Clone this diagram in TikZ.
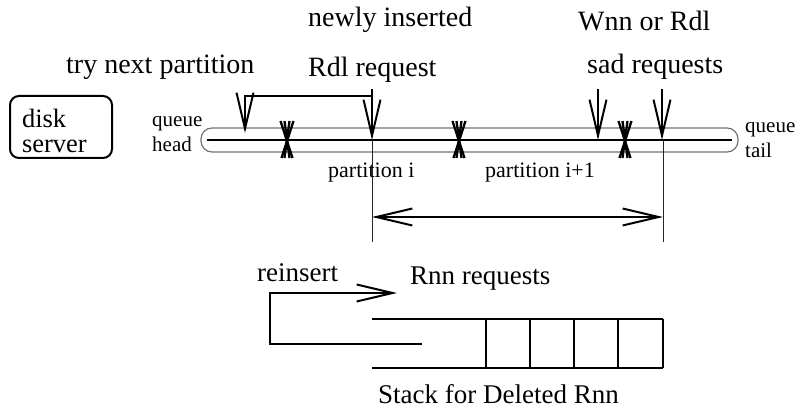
\documentclass[tikz,border=0pt]{standalone}
\usepackage{fontspec}
\setmainfont{Liberation Serif}
\usetikzlibrary{arrows.meta}
\begin{document}
\begin{tikzpicture}[x=1pt,y=-1pt,
  thickln/.style={line width=2pt},
  thinln/.style={line width=1pt, black!85},
  barb/.style={-{Straight Barb[length=36pt,width=17pt]}},
  dbarb/.style={{Straight Barb[length=36pt,width=17pt]}-{Straight Barb[length=36pt,width=17pt]}},
  bigtxt/.style={font=\fontsize{28}{30}\selectfont, inner sep=0pt, anchor=base west},
  midtxt/.style={font=\fontsize{22}{24}\selectfont, inner sep=0pt, anchor=base west},
  smalltxt/.style={font=\fontsize{21}{23}\selectfont, inner sep=0pt, anchor=base west},
  xmark/.style={line width=2.3pt}]
\useasboundingbox (0,0) rectangle (806,419);

% disk server
\node[draw, line width=2pt, rounded corners=9pt, minimum width=102pt, minimum height=62pt, inner sep=0pt] (disk) at (61,127) {};
\node[inner sep=0pt, text width=80pt, align=left, font=\fontsize{26.5}{24.5}\selectfont] (disklbl) at (62,131) {disk\\server};

% queue tube
\node[draw=black!55, line width=1.2pt, rounded corners=11pt, minimum width=537pt, minimum height=24pt, inner sep=0pt] (queue) at (469.5,140) {};
\coordinate (qh) at (207,140);
\coordinate (qt) at (732,140);
\draw[thickln] (qh) -- (qt);

% labels at ends
\node[smalltxt] (qhl1) at (152,127) {queue};
\node[smalltxt] (qhl2) at (152,152) {head};
\node[smalltxt] (qtl1) at (745,133) {queue};
\node[smalltxt] (qtl2) at (745,158) {tail};

% partition markers
\foreach \px/\nm in {287/m1,459/m2,625/m3}{
  \coordinate (\nm t) at (\px,121);
  \draw[xmark] (\px-6.5,121) -- (\px+5.5,158);
  \draw[xmark] (\px+6.5,121) -- (\px-5.5,158);
  \draw[xmark] (\px-2.5,121) -- (\px+2.5,158);
  \draw[xmark] (\px+2.5,121) -- (\px-2.5,158);
}

% top arrows
\coordinate (newtop) at (372,89);
\coordinate (newtip) at (372,140);
\coordinate (brk) at (372,96);
\coordinate (brkl) at (245,96);
\coordinate (trytip) at (245,133);
\draw[thickln, barb] (newtop) -- (newtip);
\draw[thickln, barb] (brk) -- (brkl) -- (trytip);

\coordinate (s1top) at (598,89);
\coordinate (s1tip) at (598,140);
\coordinate (s2top) at (662,89);
\coordinate (s2tip) at (662,140);
\draw[thickln, barb] (s1top) -- (s1tip);
\draw[thickln, barb] (s2top) -- (s2tip);

% top labels
\node[bigtxt] (trylbl) at (66,74) {try next partition};
\node[bigtxt] (newlbl) at (308,27) {newly inserted};
\node[bigtxt] (rdllbl) at (308,77) {Rdl request};
\node[bigtxt] (wnnlbl) at (578,31) {Wnn or Rdl};
\node[bigtxt] (sadlbl) at (587,74) {sad requests};

% partition span
\coordinate (pa) at (372,140);
\coordinate (pab) at (372,242);
\coordinate (pb) at (663,140);
\coordinate (pbb) at (663,242);
\draw[thinln] (pa) -- (pab);
\draw[thinln] (pb) -- (pbb);
\coordinate (da) at (372,217);
\coordinate (db) at (663,217);
\draw[thickln, dbarb] (da) -- (db);
\node[midtxt] (p1lbl) at (328,178) {partition i};
\node[midtxt] (p2lbl) at (485,178) {partition i+1};

% stack
\coordinate (st1) at (372,319);
\coordinate (st2) at (663,319);
\coordinate (sb1) at (372,368);
\coordinate (sb2) at (663,368);
\draw[thickln] (st1) -- (st2);
\draw[thickln] (sb1) -- (sb2);
\foreach \cx in {486,530,574,618,663}{
  \draw[thickln] (\cx,319) -- (\cx,368);
}
\coordinate (r0) at (422,344);
\coordinate (r1) at (270,344);
\coordinate (r2) at (270,293);
\coordinate (r3) at (397,293);
\draw[thickln, barb] (r0) -- (r1) -- (r2) -- (r3);

\node[bigtxt, font=\fontsize{27}{29}\selectfont] (reinslbl) at (257,282) {reinsert};
\node[bigtxt, font=\fontsize{27}{29}\selectfont] (rnnlbl) at (410,285) {Rnn requests};
\node[bigtxt, font=\fontsize{27}{29}\selectfont] (stacklbl) at (378,404) {Stack for Deleted Rnn};
\end{tikzpicture}
\end{document}
